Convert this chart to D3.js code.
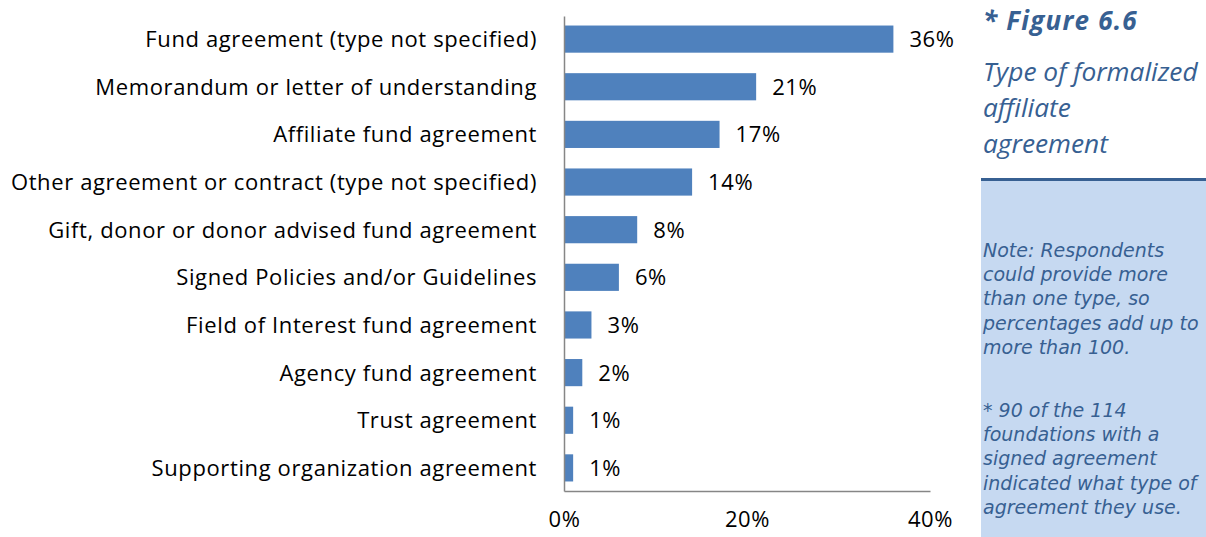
<!DOCTYPE html>
<html>
<head>
<meta charset="utf-8">
<script src="https://cdn.jsdelivr.net/npm/d3@7"></script>
<style>
  body { margin: 0; background: #fff; }
  svg { display: block; }
  text { font-family: "Open Sans", "Noto Sans", sans-serif; }
  .note { font-family: "DejaVu Sans", sans-serif; }
</style>
</head>
<body>
<div id="chart"></div>
<script>
const categories = [
  'Fund agreement (type not specified)',
  'Memorandum or letter of understanding',
  'Affiliate fund agreement',
  'Other agreement or contract (type not specified)',
  'Gift, donor or donor advised fund agreement',
  'Signed Policies and/or Guidelines',
  'Field of Interest fund agreement',
  'Agency fund agreement',
  'Trust agreement',
  'Supporting organization agreement'
];
const values = [36, 21, 17, 14, 8, 6, 3, 2, 1, 1];
const ticks = [0, 20, 40];

const figureLabel = '* Figure 6.6';
const titleLines = ['Type of formalized', 'affiliate', 'agreement'];
const noteLines = ['Note: Respondents', 'could provide more', 'than one type, so', 'percentages add up to', 'more than 100.'];
const footLines = ['* 90 of the 114', 'foundations with a', 'signed agreement', 'indicated what type of', 'agreement they use.'];

const width = 1206;
const height = 537;

const svg = d3.select('#chart')
  .append('svg')
  .attr('width', width)
  .attr('height', height);

const x = d3.scaleLinear()
  .domain([0, 40])
  .range([564, 930]);

const y = d3.scaleBand()
  .domain(categories)
  .range([16, 491])
  .paddingInner(0.43)
  .paddingOuter(0.2);

const labelSize = 22;
const labelSpacing = 0.62;

// bars
svg.append('g')
  .selectAll('rect')
  .data(values)
  .enter()
  .append('rect')
  .attr('x', x(0))
  .attr('y', (d, i) => y(categories[i]))
  .attr('width', (d) => x(d) - x(0))
  .attr('height', y.bandwidth())
  .attr('fill', '#4f81bd');

// value labels
svg.append('g')
  .selectAll('text')
  .data(values)
  .enter()
  .append('text')
  .attr('x', (d) => x(d) + 16)
  .attr('y', (d, i) => y(categories[i]) + y.bandwidth() / 2)
  .attr('dy', '0.36em')
  .attr('font-size', labelSize)
  .attr('letter-spacing', labelSpacing)
  .attr('fill', '#000')
  .text((d) => d + '%');

// category labels
svg.append('g')
  .selectAll('text')
  .data(categories)
  .enter()
  .append('text')
  .attr('x', 537)
  .attr('y', (d) => y(d) + y.bandwidth() / 2)
  .attr('dy', '0.36em')
  .attr('text-anchor', 'end')
  .attr('font-size', labelSize)
  .attr('letter-spacing', labelSpacing)
  .attr('fill', '#000')
  .text((d) => d);

// axes
const xAxis = d3.axisBottom(x)
  .tickValues(ticks)
  .tickSize(0)
  .tickPadding(20)
  .tickFormat((d) => d + '%');

const gx = svg.append('g')
  .attr('transform', 'translate(0, 491)')
  .call(xAxis);
gx.select('.domain').attr('stroke', '#868686').attr('stroke-width', 1.5);
gx.selectAll('text')
  .attr('font-size', labelSize)
  .attr('letter-spacing', labelSpacing)
  .attr('fill', '#000')
  .style('font-family', '"Open Sans", sans-serif');

const gy = svg.append('g')
  .attr('transform', `translate(${x(0)}, 0)`)
  .call(d3.axisLeft(y).tickSize(0).tickFormat(''));
gy.select('.domain').attr('stroke', '#868686').attr('stroke-width', 1.5);

// side panel
const panel = svg.append('g').attr('class', 'panel');
const blue = '#376092';

panel.append('rect')
  .attr('x', 981)
  .attr('y', 181)
  .attr('width', width - 981)
  .attr('height', height - 181)
  .attr('fill', '#c6d9f1');

panel.append('rect')
  .attr('x', 981)
  .attr('y', 178)
  .attr('width', width - 981)
  .attr('height', 3)
  .attr('fill', '#376092');

panel.append('text')
  .attr('x', 983)
  .attr('y', 30)
  .attr('font-size', 26)
  .attr('letter-spacing', 1.2)
  .attr('font-weight', 'bold')
  .attr('font-style', 'italic')
  .attr('fill', blue)
  .text(figureLabel);

panel.append('g')
  .selectAll('text')
  .data(titleLines)
  .enter()
  .append('text')
  .attr('x', 983)
  .attr('y', (d, i) => 81 + i * 36)
  .attr('font-size', 26.3)
  .attr('font-style', 'italic')
  .attr('fill', blue)
  .text((d) => d);

panel.append('g')
  .selectAll('text')
  .data(noteLines)
  .enter()
  .append('text')
  .attr('class', 'note')
  .attr('x', 983)
  .attr('y', (d, i) => 257 + i * 24.2)
  .attr('font-size', 19)
  .attr('font-style', 'italic')
  .attr('fill', blue)
  .text((d) => d);

panel.append('g')
  .selectAll('text')
  .data(footLines)
  .enter()
  .append('text')
  .attr('class', 'note')
  .attr('x', 983)
  .attr('y', (d, i) => 417 + i * 24.2)
  .attr('font-size', 19)
  .attr('font-style', 'italic')
  .attr('fill', blue)
  .text((d) => d);
</script>
</body>
</html>
